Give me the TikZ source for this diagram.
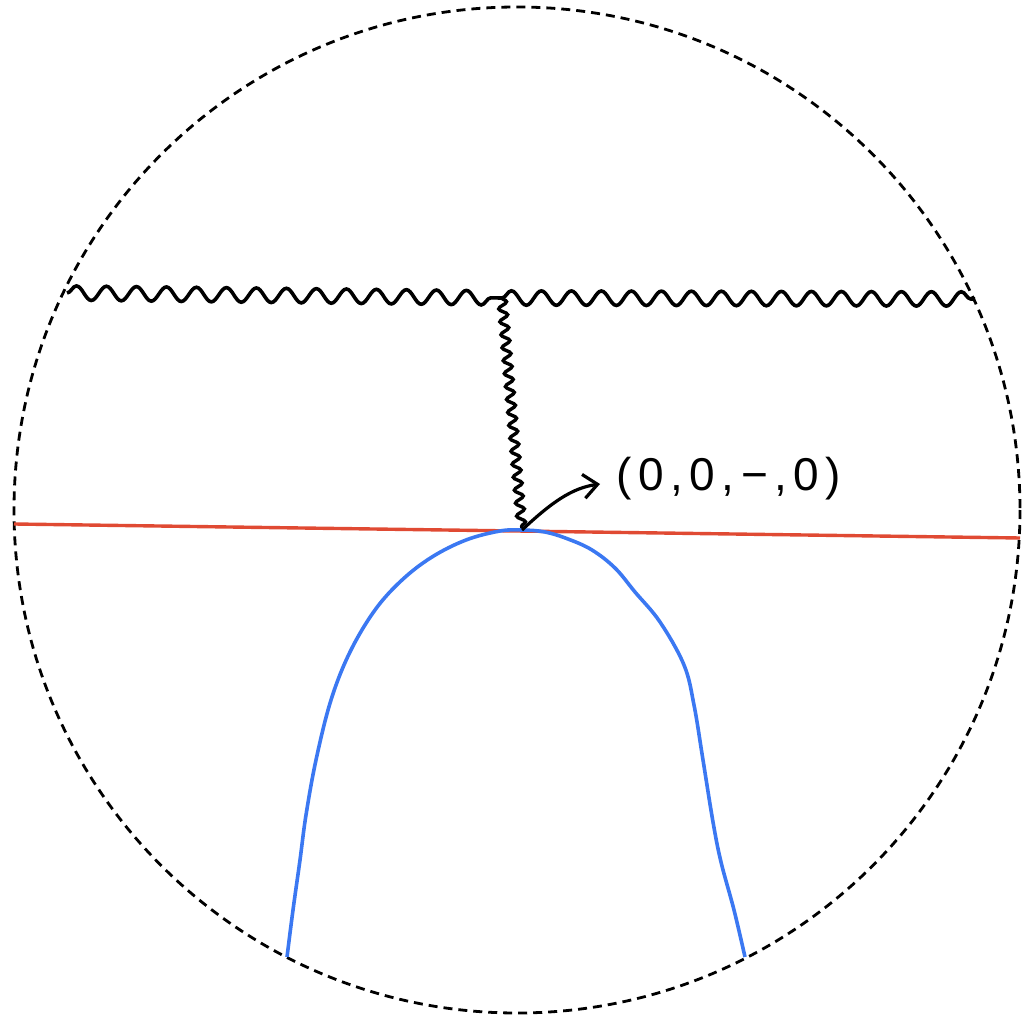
\documentclass[tikz,border=0pt]{standalone}
\usepackage{fontspec}
\newfontfamily\handfont[LetterSpace=14]{Liberation Sans}
\usetikzlibrary{decorations.pathmorphing,arrows.meta}
\definecolor{redline}{HTML}{E04A33}
\definecolor{blueline}{HTML}{3B78F2}
\tikzset{
  rim/.style={dashed,dash pattern=on 4.5pt off 3pt,line width=1.4pt},
  levelline/.style={redline,line width=1.7pt},
  wavyh/.style={line width=1.8pt,decorate,decoration={snake,amplitude=3.6pt,segment length=15pt}},
  wavyv/.style={line width=1.7pt,decorate,decoration={snake,amplitude=2.1pt,segment length=6.5pt}},
  bump/.style={blueline,line width=1.8pt},
  pointer/.style={line width=1.6pt,-{Straight Barb[length=7pt,width=12pt,line width=1.6pt]}},
  lbl/.style={font=\handfont\fontsize{23pt}{26pt}\selectfont,inner sep=0pt}
}
\begin{document}
\begin{tikzpicture}[x=0.5pt,y=-0.5pt]
\useasboundingbox (0,0) rectangle (1024,1016);
\coordinate (c) at (517,510);
\draw[rim] (c) circle[radius=503];
\coordinate (rl) at (14,524);
\coordinate (rr) at (1020,538);
\draw[levelline] (rl) -- (rr);
\coordinate (hl) at (67,293);
\coordinate (hj) at (502,298);
\coordinate (hr) at (975,299);
\draw[wavyh] (hl) -- (hj);
\draw[wavyh] (hj) -- (hr);
\coordinate (tip) at (522,530);
\draw[wavyv] (hj) -- (tip);
\draw[bump] plot[smooth,tension=0.6] coordinates {(287,957) (293,910) (300,860) (306,815) (316,760) (331,700) (350,652) (375,610) (402,580) (432,557) (466,540) (500,531) (522,530) (545,532) (568,539) (592,550) (615,568) (635,592) (660,622) (684,665) (694,705) (703,760) (713,822) (721,862) (734,910) (745,957)};
\node[lbl] (lab) at (729,479) {(0,0,−,0)};
\coordinate (arrend) at (600,484);
\draw[pointer] (tip) .. controls (552,502) and (572,488) .. (arrend);
\end{tikzpicture}
\end{document}
